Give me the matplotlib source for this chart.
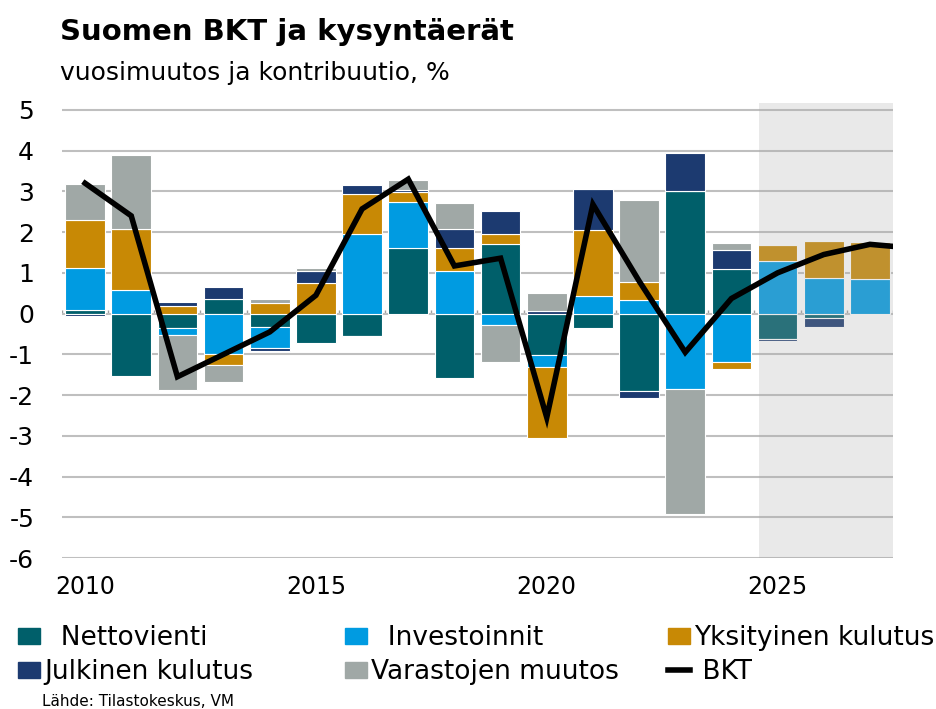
import matplotlib.pyplot as plt
import matplotlib.patches as mpatches
from matplotlib.lines import Line2D
import numpy as np

plt.rcParams['font.family'] = ['DejaVu Sans']
plt.rcParams['axes.unicode_minus'] = False

# data: vuosimuutos ja kontribuutiot, %-yks.
vuodet = np.arange(2010, 2028)
nettovienti = [0.08, -1.53, -0.36, 0.36, -0.33, -0.73, -0.55, 1.60, -1.57, 1.72,
               -1.02, -0.36, -1.91, 3.00, 1.10, -0.63, -0.12, -0.03]
investoinnit = [1.04, 0.57, -0.16, -0.98, -0.52, 0.00, 1.96, 1.14, 1.05, -0.28,
                -0.29, 0.42, 0.33, -1.85, -1.20, 1.29, 0.87, 0.84]
yksityinen = [1.18, 1.51, 0.19, -0.29, 0.27, 0.76, 0.98, 0.24, 0.57, 0.23,
              -1.75, 1.63, 0.45, 0.00, -0.16, 0.39, 0.91, 0.91]
julkinen = [-0.07, 0.00, 0.09, 0.29, -0.06, 0.29, 0.21, 0.06, 0.45, 0.57,
            0.06, 1.02, -0.16, 0.95, 0.45, -0.04, -0.21, 0.00]
varastot = [0.87, 1.81, -1.36, -0.40, 0.10, 0.08, -0.03, 0.23, 0.65, -0.92,
            0.44, 0.00, 2.02, -3.07, 0.18, 0.00, 0.00, 0.00]
bkt_vuodet = np.arange(2010, 2029)
bkt = [3.2, 2.4, -1.55, -1.0, -0.45, 0.45, 2.57, 3.3, 1.17, 1.36,
       -2.55, 2.68, 0.8, -0.95, 0.37, 1.0, 1.45, 1.7, 1.6]

sarjat = [
    ('Nettovienti', nettovienti, '#005F6A'),
    ('Investoinnit', investoinnit, '#009BE1'),
    ('Yksityinen kulutus', yksityinen, '#C88905'),
    ('Julkinen kulutus', julkinen, '#1C3A70'),
    ('Varastojen muutos', varastot, '#A0A8A6'),
]

fig = plt.figure(figsize=(9.37, 7.09), dpi=100)
ax = fig.add_axes([62/937, 1-558/709, (893-62)/937, (558-103)/709])

# pinotut pylväät, positiiviset ylös ja negatiiviset alas
pos = np.zeros(len(vuodet))
neg = np.zeros(len(vuodet))
for nimi, arvot, vari in sarjat:
    arvot = np.array(arvot)
    pohja = np.where(arvot >= 0, pos, neg)
    ax.bar(vuodet, arvot, 0.86, bottom=pohja, color=vari,
           edgecolor='white', linewidth=0.8, zorder=2)
    pos += np.clip(arvot, 0, None)
    neg += np.clip(arvot, None, 0)

# ennustejakso
ax.axvspan(2024.6, 2027.6, color='#aaaaaa', alpha=0.25, lw=0, zorder=3)

ax.plot(bkt_vuodet, bkt, color='black', lw=4, zorder=4, solid_joinstyle='miter')

ax.axhline(0, color='#a0a0a0', lw=1.3, zorder=1.5)
rajat = np.append(vuodet - 0.5, vuodet[-1] + 0.5)
ax.vlines(rajat, 0, 0.09, color='#a0a0a0', lw=1, zorder=1.5)

ax.set_xlim(2009.5, 2027.5)
ax.set_ylim(-6, 5.17)
ax.set_yticks(range(-6, 6))
ax.set_xticks([2010, 2015, 2020, 2025])
ax.grid(axis='y', color='#bfbfbf', lw=1.5, zorder=0)
for s in ax.spines.values():
    s.set_visible(False)
ax.tick_params(axis='y', length=0, pad=20, labelsize=18)
ax.tick_params(axis='x', length=0, pad=12, labelsize=17)

fig.text(60/937, 1-40/709, 'Suomen BKT ja kysyntäerät', fontsize=21,
         fontweight='bold', ha='left', va='baseline')
fig.text(60/937, 1-80/709, 'vuosimuutos ja kontribuutio, %', fontsize=18,
         ha='left', va='baseline')
fig.text(42/937, 1-706/709, 'Lähde: Tilastokeskus, VM', fontsize=11,
         ha='left', va='baseline')

# selite kolmessa sarakkeessa
varit = {nimi: vari for nimi, _, vari in sarjat}
sarakkeet = [
    (18, [('  Nettovienti', varit['Nettovienti']),
          ('Julkinen kulutus', varit['Julkinen kulutus'])]),
    (345, [('  Investoinnit', varit['Investoinnit']),
           ('Varastojen muutos', varit['Varastojen muutos'])]),
    (668, [('Yksityinen kulutus', varit['Yksityinen kulutus']),
           (' BKT', None)]),
]
for x0, rivit in sarakkeet:
    kahvat = []
    nimet = []
    for nimi, vari in rivit:
        if vari is None:
            kahvat.append(Line2D([], [], color='black', lw=4))
        else:
            kahvat.append(mpatches.Patch(color=vari))
        nimet.append(nimi)
    fig.legend(kahvat, nimet, loc='center left',
               bbox_to_anchor=(x0/937, 1-655/709), frameon=False,
               fontsize=19, handlelength=0.85, handleheight=0.55,
               handletextpad=0.15, labelspacing=0.3, borderpad=0,
               borderaxespad=0)

fig.savefig('out.png', dpi=100)
